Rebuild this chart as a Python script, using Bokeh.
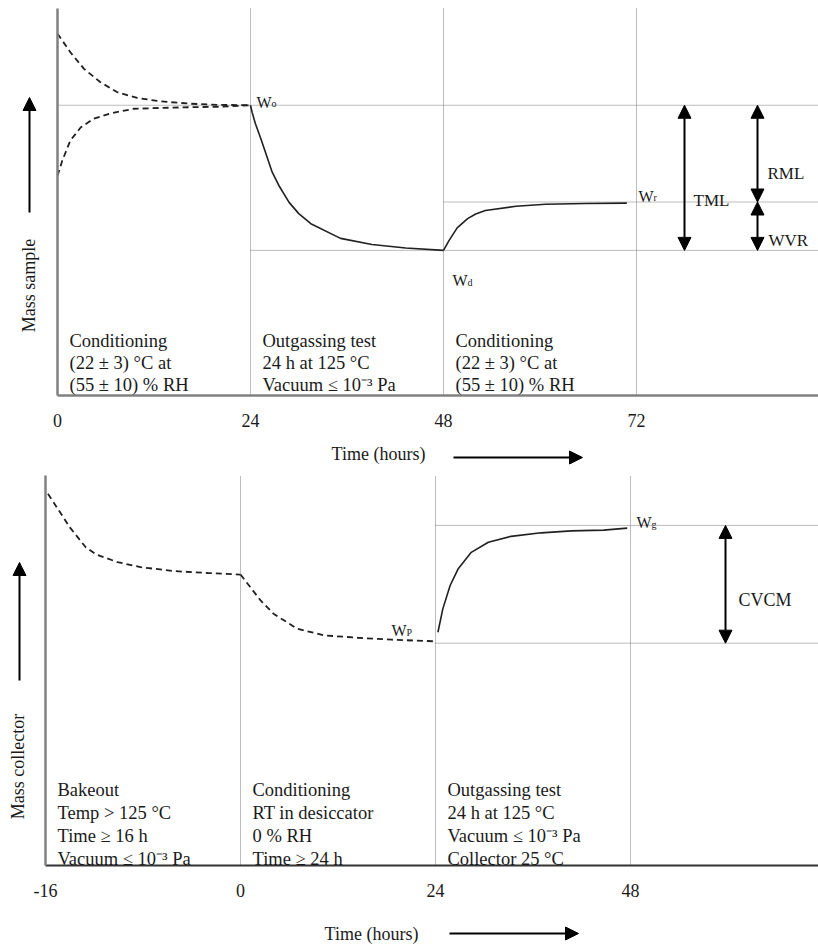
import math
import numpy as np
from bokeh.plotting import figure
from bokeh.models import Range1d, FixedTicker, Label, Arrow, NormalHead
from bokeh.layouts import column
from bokeh.embed import file_html
from bokeh.resources import INLINE

FONT = "Liberation Serif"
TXT = "#1a1a1a"
CURVE = "#202020"
DOT = "#7a7a7a"

# ---------------- top panel: mass of the sample ----------------
top_tick_hours = [0, 24, 48, 72]
top_tick_labels = ["0", "24", "48", "72"]
top_phase_texts = [
    ["Conditioning", "(22 ± 3) °C at", "(55 ± 10) % RH"],
    ["Outgassing test", "24 h at 125 °C", "Vacuum ≤ 10⁻³ Pa"],
    ["Conditioning", "(22 ± 3) °C at", "(55 ± 10) % RH"],
]
W0 = 75.0   # mass after first conditioning
Wd = 37.5   # mass after outgassing test
Wr = 50.0   # mass after re-conditioning

cond_hi_x = [0, 1.6, 3.3, 5.3, 7.4, 9.9, 12.8, 16.5, 19.9, 24]
cond_hi_y = [93.5, 88.7, 84.4, 81.0, 78.4, 76.9, 76.0, 75.4, 75.1, 75.0]
cond_lo_x = [0, 0.6, 1.6, 2.9, 4.5, 6.6, 9.5, 12.8, 16.5, 19.9, 24]
cond_lo_y = [56.8, 60.7, 65.9, 69.3, 71.5, 72.9, 74.1, 74.3, 74.5, 74.6, 75.0]
outg_x = [24, 24.2, 24.6, 25.3, 26.7, 27.6, 28.8, 30.0, 31.5, 35.2, 39.1, 43.3, 48]
outg_y = [75.0, 73.2, 70.3, 66.3, 57.7, 54.0, 49.9, 47.0, 44.4, 40.6, 39.0, 38.1, 37.5]
recond_x = [48, 48.7, 49.7, 51.0, 52.0, 53.2, 57.0, 60.7, 65.7, 70.8]
recond_y = [37.5, 40.1, 43.3, 45.7, 46.9, 47.8, 48.9, 49.4, 49.6, 49.7]

# ---------------- bottom panel: mass of the collector ----------------
bot_tick_hours = [-16, 0, 24, 48]
bot_tick_labels = ["-16", "0", "24", "48"]
bot_phase_texts = [
    ["Bakeout", "Temp > 125 °C", "Time ≥ 16 h", "Vacuum ≤ 10⁻³ Pa"],
    ["Conditioning", "RT in desiccator", "0 % RH", "Time ≥ 24 h"],
    ["Outgassing test", "24 h at 125 °C", "Vacuum ≤ 10⁻³ Pa", "Collector 25 °C"],
]
Wp = 57.0   # collector mass before test
Wg = 87.2   # collector mass after test

bake_x = [-15.8, -15.0, -14.0, -12.7, -11.8, -10.1, -8.2, -5.5, -2.7, 0]
bake_y = [95.3, 91.5, 86.7, 81.6, 79.7, 77.8, 76.5, 75.5, 75.0, 74.6]
desic_x = [0, 1.2, 2.5, 4.1, 7.0, 10.3, 14.4, 18.6, 23.7]
desic_y = [74.6, 71.4, 67.9, 64.5, 60.7, 59.0, 58.4, 57.9, 57.5]
test_x = [24.3, 24.9, 25.8, 26.8, 28.4, 30.5, 33.3, 37.0, 40.7, 44.7, 47.6]
test_y = [59.8, 65.8, 71.8, 76.1, 80.3, 82.9, 84.4, 85.3, 85.8, 86.0, 86.5]


# schematic (non-linear) time axis of the bottom panel: each phase gets one unit
def bot_u(h):
    return np.interp(h, bot_tick_hours + [72], [0, 1, 2, 3, 4])


# layout helpers (page pixel -> data) for annotation placement only
def top_x(px):
    return (px - 57) * 24 / 193


def top_y(py):
    return (395 - py) * 100 / 387


def bot_x(px):
    return (px - 45) / 195


def bot_y(py):
    return (865 - py) * 100 / 390


def lab(p, x, y, text, size="18px", align="left", baseline="alphabetic",
        angle=0.0, xo=0, yo=0):
    p.add_layout(Label(x=x, y=y, text=text, text_font=FONT, text_font_size=size,
                       text_color=TXT, text_align=align, text_baseline=baseline,
                       angle=angle, x_offset=xo, y_offset=yo))


def arrow(p, x0, y0, x1, y1, double=False):
    head = lambda: NormalHead(size=13, fill_color="black", line_color="black", line_width=1)
    p.add_layout(Arrow(x_start=x0, y_start=y0, x_end=x1, y_end=y1,
                       start=head() if double else None, end=head(),
                       line_color="black", line_width=2))


def base_fig(width, height, xr, yr, xmax):
    p = figure(width=width, height=height, x_range=Range1d(*xr), y_range=Range1d(*yr),
               output_backend="svg", toolbar_location=None,
               min_border_left=0, min_border_right=0, min_border_top=0,
               min_border_bottom=0)
    p.outline_line_color = None
    p.grid.visible = False
    p.background_fill_color = "white"
    p.border_fill_color = "white"
    ya = p.yaxis[0]
    ya.fixed_location = 0
    ya.bounds = (0, 100)
    ya.ticker = FixedTicker(ticks=[])
    ya.major_label_text_font_size = "0px"
    ya.major_tick_line_color = None
    ya.minor_tick_line_color = None
    ya.axis_line_color = "#808080"
    ya.axis_line_width = 2.5
    xa = p.xaxis[0]
    xa.fixed_location = 0
    xa.bounds = (0, xmax)
    xa.major_tick_line_color = None
    xa.minor_tick_line_color = None
    xa.major_tick_out = 0
    xa.major_tick_in = 0
    xa.major_label_standoff = 18
    xa.major_label_text_font = FONT
    xa.major_label_text_font_size = "18px"
    xa.major_label_text_color = TXT
    return p


PH = "18.5px"

# ================= TOP (page y 0..473) =================
XMAX_TOP = top_x(818)
p1 = base_fig(818, 473, (top_x(0), XMAX_TOP), (top_y(473), top_y(0)), XMAX_TOP)
xa = p1.xaxis[0]
xa.ticker = FixedTicker(ticks=top_tick_hours)
xa.major_label_overrides = {t: s for t, s in zip(top_tick_hours, top_tick_labels)}
xa.axis_line_color = "#808080"
xa.axis_line_width = 2.5

# phase boundaries
p1.segment(x0=top_tick_hours[1:], y0=[0] * 3, x1=top_tick_hours[1:], y1=[100] * 3,
           line_color=DOT, line_dash="1 1", line_width=1)
# mass levels
p1.segment(x0=[top_tick_hours[0], top_tick_hours[1], top_tick_hours[2]],
           y0=[W0, Wd, Wr], x1=[XMAX_TOP] * 3, y1=[W0, Wd, Wr],
           line_color=DOT, line_dash="1 1", line_width=1)

p1.line(cond_hi_x, cond_hi_y, line_color=CURVE, line_width=1.8, line_dash="6 4")
p1.line(cond_lo_x, cond_lo_y, line_color=CURVE, line_width=1.8, line_dash="6 4")
p1.line(outg_x, outg_y, line_color=CURVE, line_width=1.6)
p1.line(recond_x, recond_y, line_color=CURVE, line_width=1.6)

# phase descriptions
for start, lines in zip(top_tick_hours, top_phase_texts):
    for i, s in enumerate(lines):
        lab(p1, start + top_x(69), top_y(340) - i * 22.4 * 100 / 387, s, size=PH)

# level labels
lab(p1, top_tick_hours[1], W0, "W", size="16px", xo=6, yo=3)
lab(p1, top_tick_hours[1], W0, "o", size="10px", xo=21, yo=2)
lab(p1, top_tick_hours[2], Wd, "W", size="16px", xo=9, yo=-30)
lab(p1, top_tick_hours[2], Wd, "d", size="10px", xo=24, yo=-32)
lab(p1, top_tick_hours[3], Wr, "W", size="16px", xo=2, yo=6)
lab(p1, top_tick_hours[3], Wr, "r", size="10px", xo=17, yo=5)

# TML / RML / WVR arrows
xa_tml = top_x(684)
xa_rml = top_x(757)
arrow(p1, xa_tml, W0, xa_tml, Wd, double=True)
arrow(p1, xa_rml, W0, xa_rml, Wr, double=True)
arrow(p1, xa_rml, Wr, xa_rml, Wd, double=True)
lab(p1, top_x(693), top_y(200), "TML", size="17px")
lab(p1, top_x(767), top_y(173), "RML", size="17px")
lab(p1, top_x(768), top_y(240), "WVR", size="17px")

# axis titles with arrows
lab(p1, top_x(378), top_y(453), "Time (hours)", align="center", baseline="middle")
arrow(p1, top_x(453), top_y(457), top_x(582), top_y(457))
lab(p1, top_x(28), top_y(285), "Mass sample", align="center", baseline="middle",
    angle=math.pi / 2)
arrow(p1, top_x(29), top_y(212), top_x(29), top_y(97))

# ================= BOTTOM (page y 473..945) =================
XMAX_BOT = bot_x(818)
p2 = base_fig(818, 472, (bot_x(0), XMAX_BOT), (bot_y(945), bot_y(473)), XMAX_BOT)
xb = p2.xaxis[0]
bt = [float(v) for v in bot_u(bot_tick_hours)]
xb.ticker = FixedTicker(ticks=bt)
xb.major_label_overrides = {t: s for t, s in zip(bt, bot_tick_labels)}
xb.axis_line_color = "#333333"
xb.axis_line_width = 2

p2.segment(x0=bt[1:], y0=[0] * 3, x1=bt[1:], y1=[100] * 3,
           line_color=DOT, line_dash="1 1", line_width=1)
p2.segment(x0=[bt[2], bt[2]], y0=[Wg, Wp], x1=[XMAX_BOT] * 2, y1=[Wg, Wp],
           line_color=DOT, line_dash="1 1", line_width=1)

p2.line(bot_u(bake_x), bake_y, line_color=CURVE, line_width=1.8, line_dash="6 4")
p2.line(bot_u(desic_x), desic_y, line_color=CURVE, line_width=1.8, line_dash="6 4")
p2.line(bot_u(test_x), test_y, line_color=CURVE, line_width=1.6)

for start, lines in zip(bt, bot_phase_texts):
    for i, s in enumerate(lines):
        lab(p2, start + 12 / 195, bot_y(789) - i * 23.2 * 100 / 390, s, size=PH)

lab(p2, bt[2], Wp, "W", size="16px", xo=-44, yo=13)
lab(p2, bt[2], Wp, "P", size="10px", xo=-29, yo=11)
lab(p2, bt[3], Wg, "W", size="16px", xo=6, yo=3)
lab(p2, bt[3], Wg, "g", size="10px", xo=21, yo=1)

xa_cv = bot_x(725)
arrow(p2, xa_cv, Wg, xa_cv, Wp, double=True)
lab(p2, bot_x(738), bot_y(599), "CVCM", size="18px")

lab(p2, bot_x(371), bot_y(933), "Time (hours)", align="center", baseline="middle")
arrow(p2, bot_x(449), bot_y(933), bot_x(578), bot_y(933))
lab(p2, bot_x(17), bot_y(766), "Mass collector", align="center", baseline="middle",
    angle=math.pi / 2)
arrow(p2, bot_x(19), bot_y(680), bot_x(19), bot_y(562))

layout = column(p1, p2, spacing=0)
open("out.html", "w").write(file_html(layout, INLINE))
